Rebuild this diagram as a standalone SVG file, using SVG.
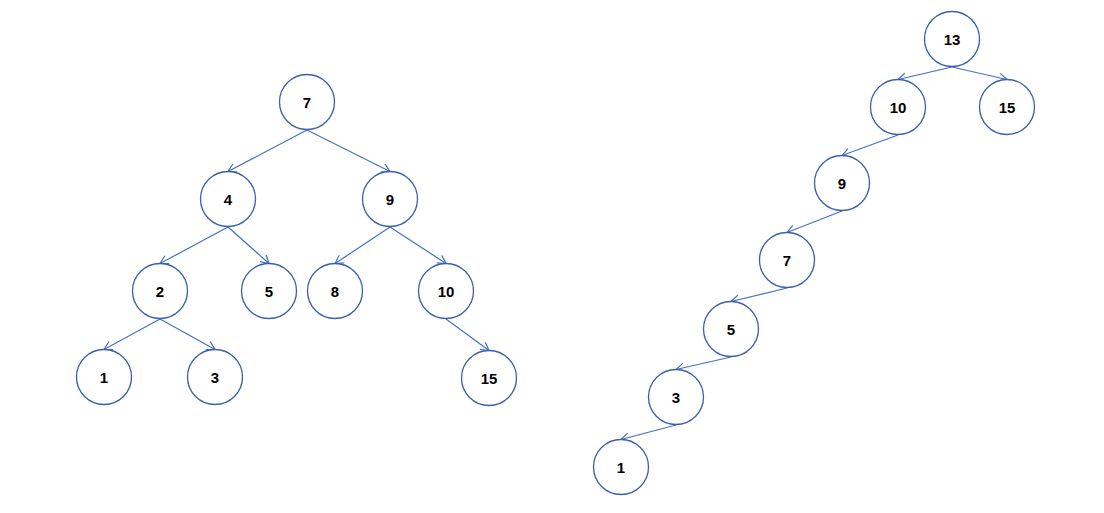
<svg xmlns="http://www.w3.org/2000/svg" width="1104" height="513" viewBox="0 0 1104 513">
<style>
.n circle{fill:#fff;stroke:#3a5fad;stroke-width:1.3}
.n text{font-family:"Liberation Sans",Arial,sans-serif;font-weight:bold;font-size:15px;fill:#000;text-anchor:middle;dominant-baseline:central}
#edges line{stroke:#4472c4;stroke-width:1.2;marker-end:url(#arr)}
</style>
<defs>
<marker id="arr" markerUnits="userSpaceOnUse" markerWidth="12" markerHeight="12" refX="10" refY="5" orient="auto">
<path d="M2,0.5 L10,5 L2,9.5" fill="none" stroke="#4472c4" stroke-width="1.2"/>
</marker>
</defs>
<rect width="1104" height="513" fill="#fff"/>
<g id="edges">
<line x1="307" y1="130" x2="228" y2="171.5"/>
<line x1="307" y1="130" x2="390" y2="171.5"/>
<line x1="228" y1="227" x2="160" y2="263.5"/>
<line x1="228" y1="227" x2="269" y2="263.5"/>
<line x1="390" y1="227" x2="335" y2="263.5"/>
<line x1="390" y1="227" x2="446" y2="263.5"/>
<line x1="160" y1="319" x2="104" y2="349.5"/>
<line x1="160" y1="319" x2="215" y2="349.5"/>
<line x1="446" y1="319" x2="489" y2="350.5"/>
<line x1="952" y1="67" x2="898" y2="79.5"/>
<line x1="952" y1="67" x2="1007" y2="79.5"/>
<line x1="898" y1="135" x2="842" y2="155.5"/>
<line x1="842" y1="211" x2="787" y2="232.5"/>
<line x1="787" y1="288" x2="731" y2="301.5"/>
<line x1="731" y1="357" x2="676" y2="369.5"/>
<line x1="676" y1="425" x2="621" y2="439.5"/>
</g>
<g id="L7" class="n"><circle cx="307" cy="102" r="27.5"/><text x="307" y="102">7</text></g>
<g id="L4" class="n"><circle cx="228" cy="199" r="27.5"/><text x="228" y="199">4</text></g>
<g id="L9" class="n"><circle cx="390" cy="199" r="27.5"/><text x="390" y="199">9</text></g>
<g id="L2" class="n"><circle cx="160" cy="291" r="27.5"/><text x="160" y="291">2</text></g>
<g id="L5" class="n"><circle cx="269" cy="291" r="27.5"/><text x="269" y="291">5</text></g>
<g id="L8" class="n"><circle cx="335" cy="291" r="27.5"/><text x="335" y="291">8</text></g>
<g id="L10" class="n"><circle cx="446" cy="291" r="27.5"/><text x="446" y="291">10</text></g>
<g id="L1" class="n"><circle cx="104" cy="377" r="27.5"/><text x="104" y="377">1</text></g>
<g id="L3" class="n"><circle cx="215" cy="377" r="27.5"/><text x="215" y="377">3</text></g>
<g id="L15" class="n"><circle cx="489" cy="378" r="27.5"/><text x="489" y="378">15</text></g>
<g id="R13" class="n"><circle cx="952" cy="39" r="27.5"/><text x="952" y="39">13</text></g>
<g id="R10" class="n"><circle cx="898" cy="107" r="27.5"/><text x="898" y="107">10</text></g>
<g id="R15" class="n"><circle cx="1007" cy="107" r="27.5"/><text x="1007" y="107">15</text></g>
<g id="R9" class="n"><circle cx="842" cy="183" r="27.5"/><text x="842" y="183">9</text></g>
<g id="R7" class="n"><circle cx="787" cy="260" r="27.5"/><text x="787" y="260">7</text></g>
<g id="R5" class="n"><circle cx="731" cy="329" r="27.5"/><text x="731" y="329">5</text></g>
<g id="R3" class="n"><circle cx="676" cy="397" r="27.5"/><text x="676" y="397">3</text></g>
<g id="R1" class="n"><circle cx="621" cy="467" r="27.5"/><text x="621" y="467">1</text></g>
</svg>
